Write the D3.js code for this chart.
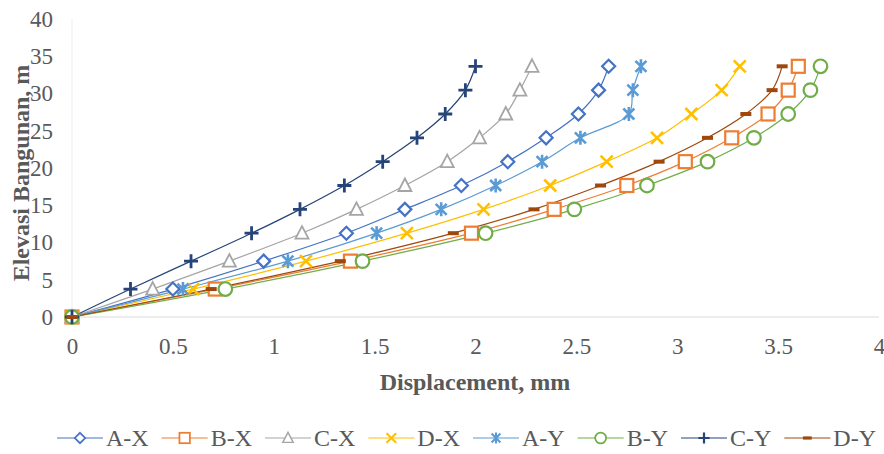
<!DOCTYPE html>
<html>
<head>
<meta charset="utf-8">
<script src="https://cdn.jsdelivr.net/npm/d3@7/dist/d3.min.js"></script>
<style>
  html, body { margin: 0; padding: 0; background: #fff; }
  svg { display: block; }
  text { font-family: "Liberation Serif", "Times New Roman", serif; }
</style>
</head>
<body>
<svg id="chart" width="884" height="454"></svg>
<script>
// Floor elevations (m)
const elevations = [0, 3.75, 7.5, 11.25, 14.45, 17.65, 20.85, 24.05, 27.25, 30.45, 33.65];

// Lateral displacement per floor (mm)
const dispAX = [0, 0.50, 0.95, 1.36, 1.65, 1.93, 2.16, 2.35, 2.51, 2.61, 2.66];
const dispBX = [0, 0.71, 1.38, 1.98, 2.39, 2.75, 3.04, 3.27, 3.45, 3.55, 3.60];
const dispCX = [0, 0.40, 0.78, 1.14, 1.41, 1.65, 1.86, 2.02, 2.15, 2.22, 2.28];
const dispDX = [0, 0.60, 1.16, 1.66, 2.04, 2.37, 2.65, 2.90, 3.07, 3.22, 3.31];
const dispAY = [0, 0.55, 1.07, 1.51, 1.83, 2.10, 2.33, 2.52, 2.76, 2.78, 2.82];
const dispBY = [0, 0.76, 1.44, 2.05, 2.49, 2.85, 3.15, 3.38, 3.55, 3.66, 3.71];
const dispCY = [0, 0.29, 0.59, 0.89, 1.13, 1.35, 1.54, 1.71, 1.85, 1.95, 2.00];
const dispDY = [0, 0.69, 1.33, 1.89, 2.29, 2.62, 2.91, 3.15, 3.34, 3.47, 3.52];

const seriesNames = ["A-X", "B-X", "C-X", "D-X", "A-Y", "B-Y", "C-Y", "D-Y"];
const seriesValues = [dispAX, dispBX, dispCX, dispDX, dispAY, dispBY, dispCY, dispDY];

const xTicks = [0, 0.5, 1, 1.5, 2, 2.5, 3, 3.5, 4];
const yTicks = [0, 5, 10, 15, 20, 25, 30, 35, 40];

const colors = ["#4472C4", "#ED7D31", "#A5A5A5", "#FFC000", "#5B9BD5", "#70AD47", "#264478", "#9E480E"];
const markers = ["diamond", "square", "triangle", "cross", "asterisk", "circle", "plus", "dash"];

const svg = d3.select("#chart");
const x = d3.scaleLinear().domain([0, 4]).range([72, 879]);
const y = d3.scaleLinear().domain([0, 40]).range([317, 19]);

// Axis lines
svg.append("line").attr("x1", x(0)).attr("x2", x(4)).attr("y1", y(0)).attr("y2", y(0))
  .attr("stroke", "#D9D9D9").attr("stroke-width", 1);
svg.append("line").attr("x1", x(0)).attr("x2", x(0)).attr("y1", y(0)).attr("y2", y(40))
  .attr("stroke", "#EDEDED").attr("stroke-width", 1);

// Tick labels via d3 axes
const xAxis = svg.append("g").attr("transform", `translate(0,${y(0)})`)
  .call(d3.axisBottom(x).tickValues(xTicks).tickFormat(d3.format("")).tickSize(0).tickPadding(18));
const yAxis = svg.append("g").attr("transform", `translate(${x(0)},0)`)
  .call(d3.axisLeft(y).tickValues(yTicks).tickSize(0).tickPadding(19));
[xAxis, yAxis].forEach(g => {
  g.select(".domain").remove();
  g.selectAll("text").attr("font-family", "Liberation Serif").attr("font-size", 23)
    .attr("fill", "#595959");
});
xAxis.selectAll("text").attr("dy", "0.32em").attr("y", 30);

// Axis titles
svg.append("text").attr("x", 475).attr("y", 390).attr("text-anchor", "middle")
  .attr("font-size", 24).attr("font-weight", "bold").attr("fill", "#595959")
  .text("Displacement, mm");
svg.append("text").attr("transform", "translate(29,173) rotate(-90)").attr("text-anchor", "middle")
  .attr("font-size", 24).attr("font-weight", "bold").attr("fill", "#595959")
  .text("Elevasi Bangunan, m");

// Marker drawing
function drawMarker(g, type, color) {
  const sw = 2.2;
  switch (type) {
    case "diamond":
      g.append("path").attr("d", "M0,-6.5L6.5,0L0,6.5L-6.5,0Z").attr("fill", "#fff")
        .attr("stroke", color).attr("stroke-width", sw); break;
    case "square":
      g.append("rect").attr("x", -6.5).attr("y", -6.5).attr("width", 13).attr("height", 13)
        .attr("fill", "#fff").attr("stroke", color).attr("stroke-width", sw); break;
    case "triangle":
      g.append("path").attr("d", "M0,-7L6.5,5.5L-6.5,5.5Z").attr("fill", "#fff")
        .attr("stroke", color).attr("stroke-width", 1.8); break;
    case "cross":
      g.append("path").attr("d", "M-6,-6L6,6M-6,6L6,-6").attr("stroke", color).attr("stroke-width", 2.6); break;
    case "asterisk":
      g.append("path").attr("d", "M-5.5,-5.5L5.5,5.5M-5.5,5.5L5.5,-5.5M0,-7L0,7")
        .attr("stroke", color).attr("stroke-width", 2.6); break;
    case "circle":
      g.append("circle").attr("r", 6.8).attr("fill", "#fff").attr("stroke", color).attr("stroke-width", sw); break;
    case "plus":
      g.append("path").attr("d", "M-7,0L7,0M0,-7L0,7").attr("stroke", color).attr("stroke-width", 2.8); break;
    case "dash":
      g.append("rect").attr("x", -5.5).attr("y", -2).attr("width", 11).attr("height", 4)
        .attr("fill", color); break;
  }
}

const line = d3.line().x(d => x(d[0])).y(d => y(d[1])).curve(d3.curveCatmullRom.alpha(0.5));

seriesValues.forEach((vals, i) => {
  const pts = vals.map((v, k) => [v, elevations[k]]);
  svg.append("path").datum(pts).attr("d", line).attr("fill", "none")
    .attr("stroke", colors[i]).attr("stroke-width", 1.2);
});
seriesValues.forEach((vals, i) => {
  vals.forEach((v, k) => {
    const g = svg.append("g").attr("transform", `translate(${x(v)},${y(elevations[k])})`);
    drawMarker(g, markers[i], colors[i]);
  });
});

// Legend
const legend = svg.append("g");
let cursor = 0;
const lineW = 46, legendY = 438, gap = 13;
seriesNames.forEach((name, i) => {
  const item = legend.append("g").attr("transform", `translate(${cursor},${legendY})`);
  item.append("line").attr("x1", 0).attr("x2", lineW).attr("y1", 0).attr("y2", 0)
    .attr("stroke", colors[i]).attr("stroke-width", 1.2);
  drawMarker(item.append("g").attr("transform", `translate(${lineW / 2},0) scale(0.8)`), markers[i], colors[i]);
  const t = item.append("text").attr("x", lineW + 3).attr("y", 0).attr("dy", "0.35em")
    .attr("font-size", 24).attr("fill", "#595959").text(name);
  cursor += lineW + 3 + t.node().getComputedTextLength() + gap;
});
const legendW = cursor - gap;
legend.attr("transform", `translate(${466.5 - legendW / 2},0)`);
</script>
</body>
</html>
